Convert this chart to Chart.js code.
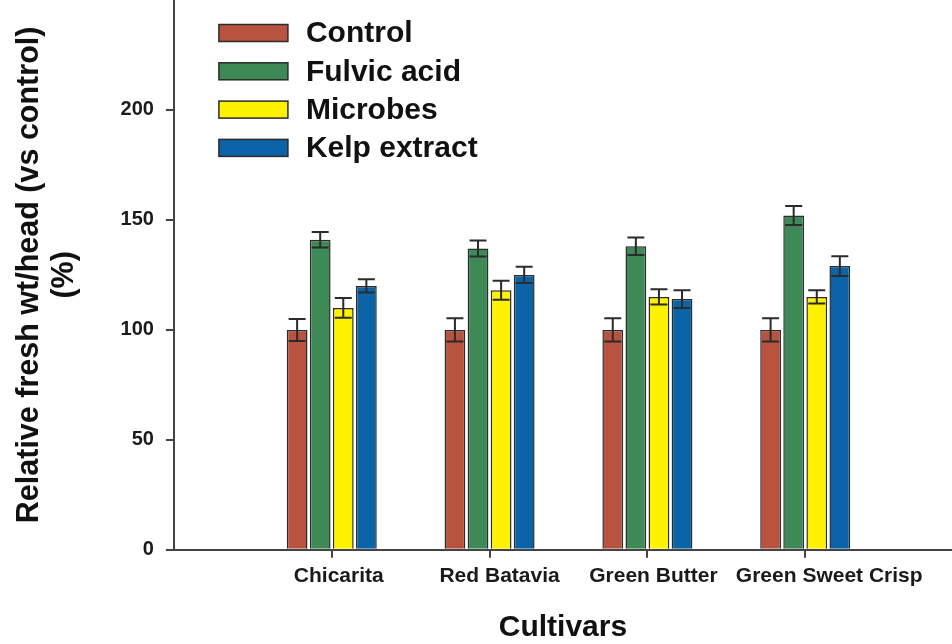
<!DOCTYPE html>
<html>
<head>
<meta charset="utf-8">
<script src="https://cdn.jsdelivr.net/npm/chart.js@4.4.1/dist/chart.umd.min.js"></script>
<style>
  html, body { margin: 0; padding: 0; background: #fff; overflow: hidden; }
</style>
</head>
<body>
<canvas id="chart" width="952" height="644"></canvas>
<script>
// cultivars on the x axis (positions 1..4)
const cultivars = ["Chicarita", "Red Batavia", "Green Butter", "Green Sweet Crisp"];

// relative fresh wt/head (%) and error bars
const control = [100, 100, 100, 100];
const controlErr = [5, 5.3, 5.3, 5.3];
const fulvic = [141, 137, 138, 152];
const fulvicErr = [3.5, 3.6, 4, 4.3];
const microbes = [110, 118, 115, 115];
const microbesErr = [4.5, 4.3, 3.5, 3];
const kelp = [120, 125, 114, 129];
const kelpErr = [3, 3.7, 4, 4.5];

const yTicks = [0, 50, 100, 150, 200];

// horizontal nudge of each cultivar label from its tick (px)
const labelShift = [7, 10, 6, 24];

const ink = "#2b2b2b";
Chart.defaults.font.family = "'Liberation Sans', Arial, sans-serif";

const points = (vals) => vals.map((v, i) => ({ x: i + 1, y: v }));

const errorBars = {
  id: "errorBars",
  afterDatasetsDraw(chart) {
    const ctx = chart.ctx;
    const y = chart.scales.y;
    ctx.save();
    ctx.strokeStyle = ink;
    ctx.lineWidth = 2;
    chart.data.datasets.forEach((ds, di) => {
      const meta = chart.getDatasetMeta(di);
      meta.data.forEach((bar, i) => {
        const v = ds.data[i].y;
        const e = ds.errors[i];
        const top = y.getPixelForValue(v + e);
        const bot = y.getPixelForValue(v - e);
        ctx.beginPath();
        ctx.moveTo(bar.x, top);
        ctx.lineTo(bar.x, bot);
        ctx.moveTo(bar.x - 8.5, top);
        ctx.lineTo(bar.x + 8.5, top);
        ctx.moveTo(bar.x - 8.5, bot);
        ctx.lineTo(bar.x + 8.5, bot);
        ctx.stroke();
      });
    });
    ctx.restore();
  }
};

const boxLegend = {
  id: "boxLegend",
  afterDraw(chart) {
    const ctx = chart.ctx;
    const area = chart.chartArea;
    ctx.save();
    ctx.font = "bold 30px 'Liberation Sans', Arial, sans-serif";
    ctx.textBaseline = "middle";
    chart.data.datasets.forEach((ds, i) => {
      const cy = 33 + i * 38.3;
      const bx = area.left + 45;
      ctx.fillStyle = ds.backgroundColor;
      ctx.fillRect(bx, cy - 8.5, 69, 17);
      ctx.strokeStyle = ink;
      ctx.lineWidth = 1.5;
      ctx.strokeRect(bx, cy - 8.5, 69, 17);
      ctx.fillStyle = "#111";
      ctx.fillText(ds.label, bx + 87, cy + 1);
    });
    ctx.restore();
  }
};

const xLabels = {
  id: "xLabels",
  afterDraw(chart) {
    const ctx = chart.ctx;
    const x = chart.scales.x;
    ctx.save();
    ctx.font = "bold 21px 'Liberation Sans', Arial, sans-serif";
    ctx.fillStyle = "#1a1a1a";
    ctx.textAlign = "center";
    ctx.textBaseline = "top";
    cultivars.forEach((name, i) => {
      const px = x.getPixelForValue(i + 1) + labelShift[i];
      ctx.fillText(name, px, x.top + 16);
    });
    ctx.restore();
  }
};

new Chart(document.getElementById("chart"), {
  type: "bar",
  data: {
    datasets: [
      { label: "Control", data: points(control), errors: controlErr, backgroundColor: "#b8533f" },
      { label: "Fulvic acid", data: points(fulvic), errors: fulvicErr, backgroundColor: "#3d8a56" },
      { label: "Microbes", data: points(microbes), errors: microbesErr, backgroundColor: "#fff200" },
      { label: "Kelp extract", data: points(kelp), errors: kelpErr, backgroundColor: "#0a64a7" },
    ],
  },
  options: {
    responsive: false,
    animation: false,
    layout: { padding: { left: 12, right: 0, top: 0, bottom: -2 } },
    datasets: {
      bar: { categoryPercentage: 0.585, barPercentage: 0.9, borderColor: ink, borderWidth: 1.5 },
    },
    plugins: {
      legend: { display: false },
      tooltip: { enabled: false },
    },
    scales: {
      x: {
        type: "linear",
        min: 0,
        max: 4.93, // the original figure is cropped on the right
        offset: false,
        afterFit: (s) => { s.paddingLeft = 0; s.paddingRight = 0; },
        border: { color: "#444", width: 2 },
        grid: {
          offset: false,
          drawOnChartArea: false,
          tickLength: 8,
          lineWidth: 2,
          color: (c) => (c.tick && c.tick.value >= 1 ? "#444" : "rgba(0,0,0,0)"),
        },
        ticks: {
          stepSize: 1,
          includeBounds: false,
          autoSkip: false,
          maxRotation: 0,
          color: "rgba(0,0,0,0)",
          font: { size: 21, weight: "bold" },
          padding: 6,
          callback: (v) => cultivars[v - 1] || "",
        },
        title: {
          display: true,
          text: "Cultivars",
          color: "#111",
          font: { size: 30, weight: "bold" },
          padding: { top: 15, bottom: 0 },
        },
      },
      y: {
        min: 0,
        max: 250,
        afterFit: (s) => { s.paddingTop = 0; },
        border: { color: "#444", width: 2 },
        grid: {
          drawOnChartArea: false,
          tickLength: 8,
          lineWidth: 2,
          color: (c) => (c.tick && yTicks.includes(c.tick.value) ? "#444" : "rgba(0,0,0,0)"),
        },
        ticks: {
          stepSize: 50,
          color: "#1a1a1a",
          font: { size: 20, weight: "bold" },
          padding: 12,
          callback: (v) => (yTicks.includes(v) ? v : ""),
        },
        title: {
          display: true,
          text: ["Relative fresh wt/head (vs control)", "(%)"],
          color: "#111",
          font: { size: 30.5, weight: "bold", lineHeight: 1.14 },
          padding: { top: 0, bottom: 27 },
        },
      },
    },
  },
  plugins: [errorBars, boxLegend, xLabels],
});
</script>
</body>
</html>
